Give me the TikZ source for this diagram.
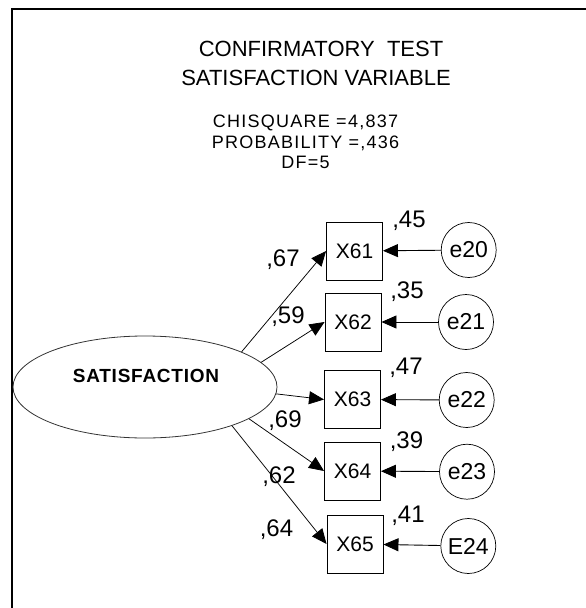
\documentclass[tikz,border=0pt]{standalone}
\usepackage{fontspec}
\setmainfont{Liberation Sans}
\newfontfamily\spacedfont[LetterSpace=7]{Liberation Sans}
\newfontfamily\widefont[LetterSpace=4]{Liberation Sans}
\usetikzlibrary{arrows.meta,shapes.geometric}
\begin{document}
\begin{tikzpicture}[x=1pt,y=-1pt,
  obs/.style={draw, line width=0.9pt, minimum width=56pt, minimum height=58pt, inner sep=0pt, font=\fontsize{21}{21}\selectfont},
  err/.style={draw, circle, line width=0.7pt, minimum size=55pt, inner sep=0pt, font=\fontsize{23}{23}\selectfont},
  lbl/.style={inner sep=0pt, font=\fontsize{24}{24}\selectfont},
  regpath/.style={line width=0.75pt, -{Triangle[length=15pt,width=13pt]}},
  errpath/.style={line width=0.9pt, -{Triangle[length=15pt,width=13pt]}}
]
\useasboundingbox (0,0) rectangle (586,608);
\draw[line width=2.4pt] (12,609) -- (12,9) -- (587,9);

% titles
\node[inner sep=0pt, font=\fontsize{22}{22}\selectfont] (t1) at (321,49) {CONFIRMATORY\ \ TEST};
\node[inner sep=0pt, font=\fontsize{22}{22}\selectfont] (t2) at (316,77.5) {SATISFACTION VARIABLE};
\node[inner sep=0pt, align=center, font=\spacedfont\fontsize{18}{20.5}\selectfont] (stats) at (305.5,142) {CHISQUARE =4,837\\PROBABILITY =,436\\DF=5};

% latent
\node[draw=black!80, line width=0.8pt, ellipse, minimum width=264pt, minimum height=102pt, inner sep=0pt] (sat) at (145,387) {};
\node[inner sep=0pt, font=\widefont\bfseries\fontsize{19}{19}\selectfont] (satl) at (146,375.7) {SATISFACTION};

% observed
\node[obs] (x61) at (354.5,251) {X61};
\node[obs] (x62) at (353,322) {X62};
\node[obs] (x63) at (352.5,399.5) {X63};
\node[obs] (x64) at (352.5,471) {X64};
\node[obs] (x65) at (355,544) {X65};

% errors
\node[err] (e20) at (468.7,250) {e20};
\node[err] (e21) at (466,322) {e21};
\node[err] (e22) at (466.7,400) {e22};
\node[err] (e23) at (467,471.7) {e23};
\node[err] (e24) at (468.3,546) {E24};

% paths
\draw[regpath] (sat.20.4) -- (x61.west);
\draw[regpath] (sat.12.9) -- (x62.west);
\draw[regpath] (sat.-3.5) -- (x63.west);
\draw[regpath] (sat.-17) -- (x64.west);
\draw[regpath] (sat.-24.3) -- (x65.west);

\draw[errpath] (e20) -- (x61);
\draw[errpath] (e21) -- (x62);
\draw[errpath] (e22) -- (x63);
\draw[errpath] (e23) -- (x64);
\draw[errpath] (e24) -- (x65);

% loadings
\node[lbl] (l61) at (283,260) {,67};
\node[lbl] (l62) at (288,317) {,59};
\node[lbl] (l64) at (285,421) {,69};
\node[lbl] (l65a) at (279,476.7) {,62};
\node[lbl] (l65) at (276.5,530) {,64};

% R squared
\node[lbl] (r61) at (409,221) {,45};
\node[lbl] (r62) at (407,292) {,35};
\node[lbl] (r63) at (406,368) {,47};
\node[lbl] (r64) at (406.5,441.7) {,39};
\node[lbl] (r65) at (408,516) {,41};
\end{tikzpicture}
\end{document}
